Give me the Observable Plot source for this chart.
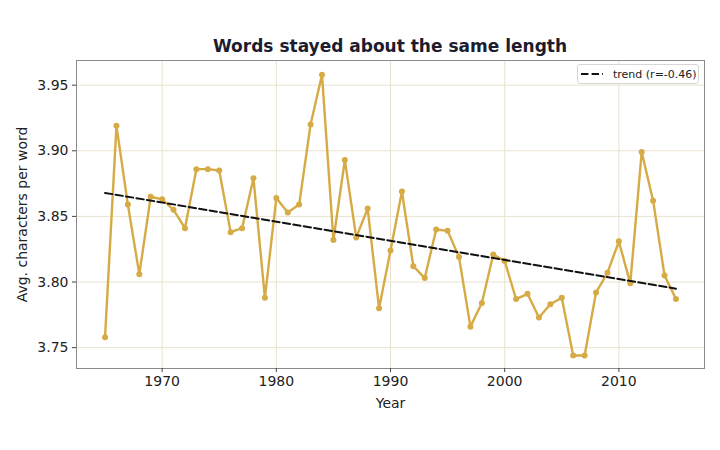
<!DOCTYPE html>
<html>
<head>
<meta charset="utf-8">
<script src="https://cdn.jsdelivr.net/npm/d3@7"></script>
<script src="https://cdn.jsdelivr.net/npm/@observablehq/plot@0.6"></script>
<style>
  body { margin: 0; background: #fff; font-family: "DejaVu Sans", sans-serif; }
  #wrap { position: relative; width: 720px; height: 450px; }
  #chart { position: absolute; left: 0; top: 40px; z-index: 1; }
  #title { position: absolute; left: 0; top: 36px; width: 720px; padding-left: 60px; box-sizing: border-box; text-align: center; font-weight: bold; font-size: 17px; line-height: 20px; color: #1c1c2e; z-index: 2; }
  #legend { position: absolute; left: 577px; top: 64px; height: 20px; width: 122px; border: 1px solid #d6d6d6; border-radius: 3px; background: #fff; font-size: 11px; color: #222; display: flex; align-items: center; box-sizing: border-box; white-space: nowrap; z-index: 3; }
  #legend svg { margin-left: 3px; margin-right: 10px; }
</style>
</head>
<body>
<div id="wrap">
  <div id="chart"></div>
  <div id="title">Words stayed about the same length</div>
  <div id="legend"><svg width="22" height="6"><line x1="0" y1="3" x2="22" y2="3" stroke="#111" stroke-width="2" stroke-dasharray="7.4,3.2"/></svg><span>trend (r=-0.46)</span></div>
</div>
<script>
const years = d3.range(1965, 2016);
const avgChars = [
  3.758, 3.919, 3.859, 3.806, 3.865, 3.863, 3.855, 3.841, 3.886, 3.886,
  3.885, 3.838, 3.841, 3.879, 3.788, 3.864, 3.853, 3.859, 3.920, 3.958,
  3.832, 3.893, 3.834, 3.856, 3.780, 3.824, 3.869, 3.812, 3.803, 3.840,
  3.839, 3.819, 3.766, 3.784, 3.821, 3.816, 3.787, 3.791, 3.773, 3.783,
  3.788, 3.744, 3.744, 3.792, 3.807, 3.831, 3.799, 3.899, 3.862, 3.805,
  3.787
];
const yTicks = [3.75, 3.80, 3.85, 3.90, 3.95];
const xTicks = [1970, 1980, 1990, 2000, 2010];

const data = years.map((y, i) => ({year: y, value: avgChars[i]}));
const lineColor = "#d6ab45";

const chart = Plot.plot({
  width: 720,
  height: 410,
  marginTop: 20,
  marginBottom: 82,
  marginLeft: 76,
  marginRight: 16,
  style: { fontFamily: "DejaVu Sans, sans-serif", fontSize: "14px", color: "#222", background: "transparent" },
  x: { domain: [1962.5, 2017.5], ticks: xTicks, tickFormat: d => String(d), label: null },
  y: { domain: [3.7341, 3.9688], ticks: yTicks, tickFormat: d => d.toFixed(2), label: null },
  marks: [
    Plot.gridX(xTicks, { stroke: "#e9e2cf", strokeOpacity: 1, strokeWidth: 1 }),
    Plot.gridY(yTicks, { stroke: "#e9e2cf", strokeOpacity: 1, strokeWidth: 1 }),
    Plot.frame({ stroke: "#8a8a8a", strokeWidth: 1 }),
    Plot.axisX({ ticks: xTicks, tickFormat: d => String(d), tickSize: 4, tickPadding: 4, fontSize: 14, stroke: "#444", label: null }),
    Plot.axisY({ ticks: yTicks, tickFormat: d => d.toFixed(2), tickSize: 4, tickPadding: 4, fontSize: 14, stroke: "#444", label: null }),
    Plot.line(data, { x: "year", y: "value", stroke: lineColor, strokeWidth: 2.4 }),
    Plot.dot(data, { x: "year", y: "value", fill: lineColor, r: 3, stroke: null }),
    Plot.linearRegressionY(data, { x: "year", y: "value", ci: 0, stroke: "#111", strokeWidth: 2, strokeDasharray: "7.4,3.2" }),
    Plot.text(["Year"], { frameAnchor: "bottom", dy: 39, fontSize: 14, fill: "#222" }),
    Plot.text(["Avg. characters per word"], { frameAnchor: "left", textAnchor: "middle", dx: -54, rotate: -90, fontSize: 14, fill: "#222" })
  ]
});
document.getElementById("chart").appendChild(chart);
</script>
</body>
</html>
